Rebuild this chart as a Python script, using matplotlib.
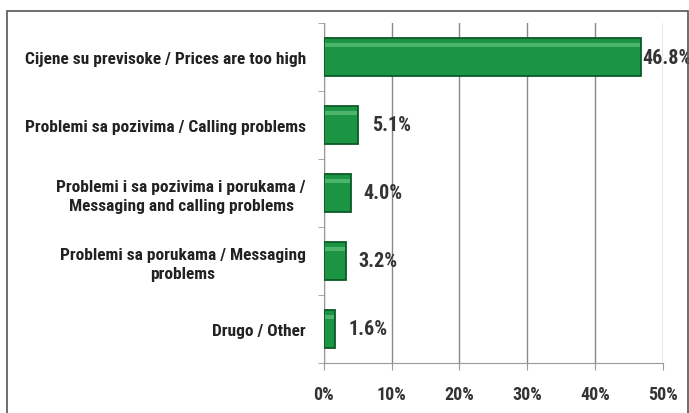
import matplotlib.pyplot as plt
from matplotlib.patches import Rectangle
from matplotlib.ticker import FixedLocator

categories = [
    'Cijene su previsoke / Prices are too high',
    'Problemi sa pozivima / Calling problems',
    'Problemi i sa pozivima i porukama /\nMessaging and calling problems',
    'Problemi sa porukama / Messaging\nproblems',
    'Drugo / Other',
]
values = [46.8, 5.1, 4.0, 3.2, 1.6]
xticks = [0, 10, 20, 30, 40, 50]

plt.rcParams['font.family'] = ['Roboto Condensed', 'DejaVu Sans']

fig = plt.figure(figsize=(6.89, 4.14), dpi=100)
ax = fig.add_axes([0.470, 0.121, 0.492, 0.821])

# outer frame
fig.patches.append(Rectangle((7 / 689, -0.01), 681 / 689, 1 - 12 / 414 + 0.01,
                             transform=fig.transFigure, fill=False,
                             edgecolor='#555555', linewidth=1.2))

ypos = list(range(len(categories)))
ax.barh(ypos, values, height=0.55, color='#1b9444', edgecolor='#0c5a28', linewidth=1.3, zorder=3)
# light highlight along the top of each bar
ax.barh([y - 0.17 for y in ypos], [max(v - 0.3, 0) for v in values], height=0.06,
        left=0.15, color='#4cb56b', linewidth=0, zorder=4)

ax.set_xlim(0, 50)
ax.set_ylim(len(categories) - 0.5, -0.5)
ax.set_xticks(xticks)
ax.set_xticklabels([f'{t}%' for t in xticks], fontsize=13, fontweight='bold', color='#333333')
ax.set_yticks(ypos)
ax.set_yticklabels(categories, fontsize=12.5, fontweight='bold', color='#222222')
for lbl in ax.get_yticklabels():
    lbl.set_multialignment('center')
    lbl.set_linespacing(1.3)
ax.yaxis.set_minor_locator(FixedLocator([y + 0.5 for y in range(-1, len(categories))]))
ax.tick_params(axis='y', which='major', length=0, pad=13)
ax.tick_params(axis='y', which='minor', length=4, color='#999999', direction='out')
ax.tick_params(axis='x', length=5, color='#999999', pad=11)

ax.grid(axis='x', color='#888888', linewidth=1.0, zorder=0)
for side in ['top', 'right']:
    ax.spines[side].set_visible(False)
ax.spines['left'].set_color('#999999')
ax.spines['bottom'].set_color('#999999')

offsets = [1, 10, 9, 9, 10]
for y, v, off in zip(ypos, values, offsets):
    ax.annotate(f'{v:.1f}%', (v, y), xytext=(off, 0), textcoords='offset points',
                va='center', ha='left', fontsize=14.5, fontweight='bold', color='#333333',
                annotation_clip=False)

fig.savefig('out.png', dpi=100)
